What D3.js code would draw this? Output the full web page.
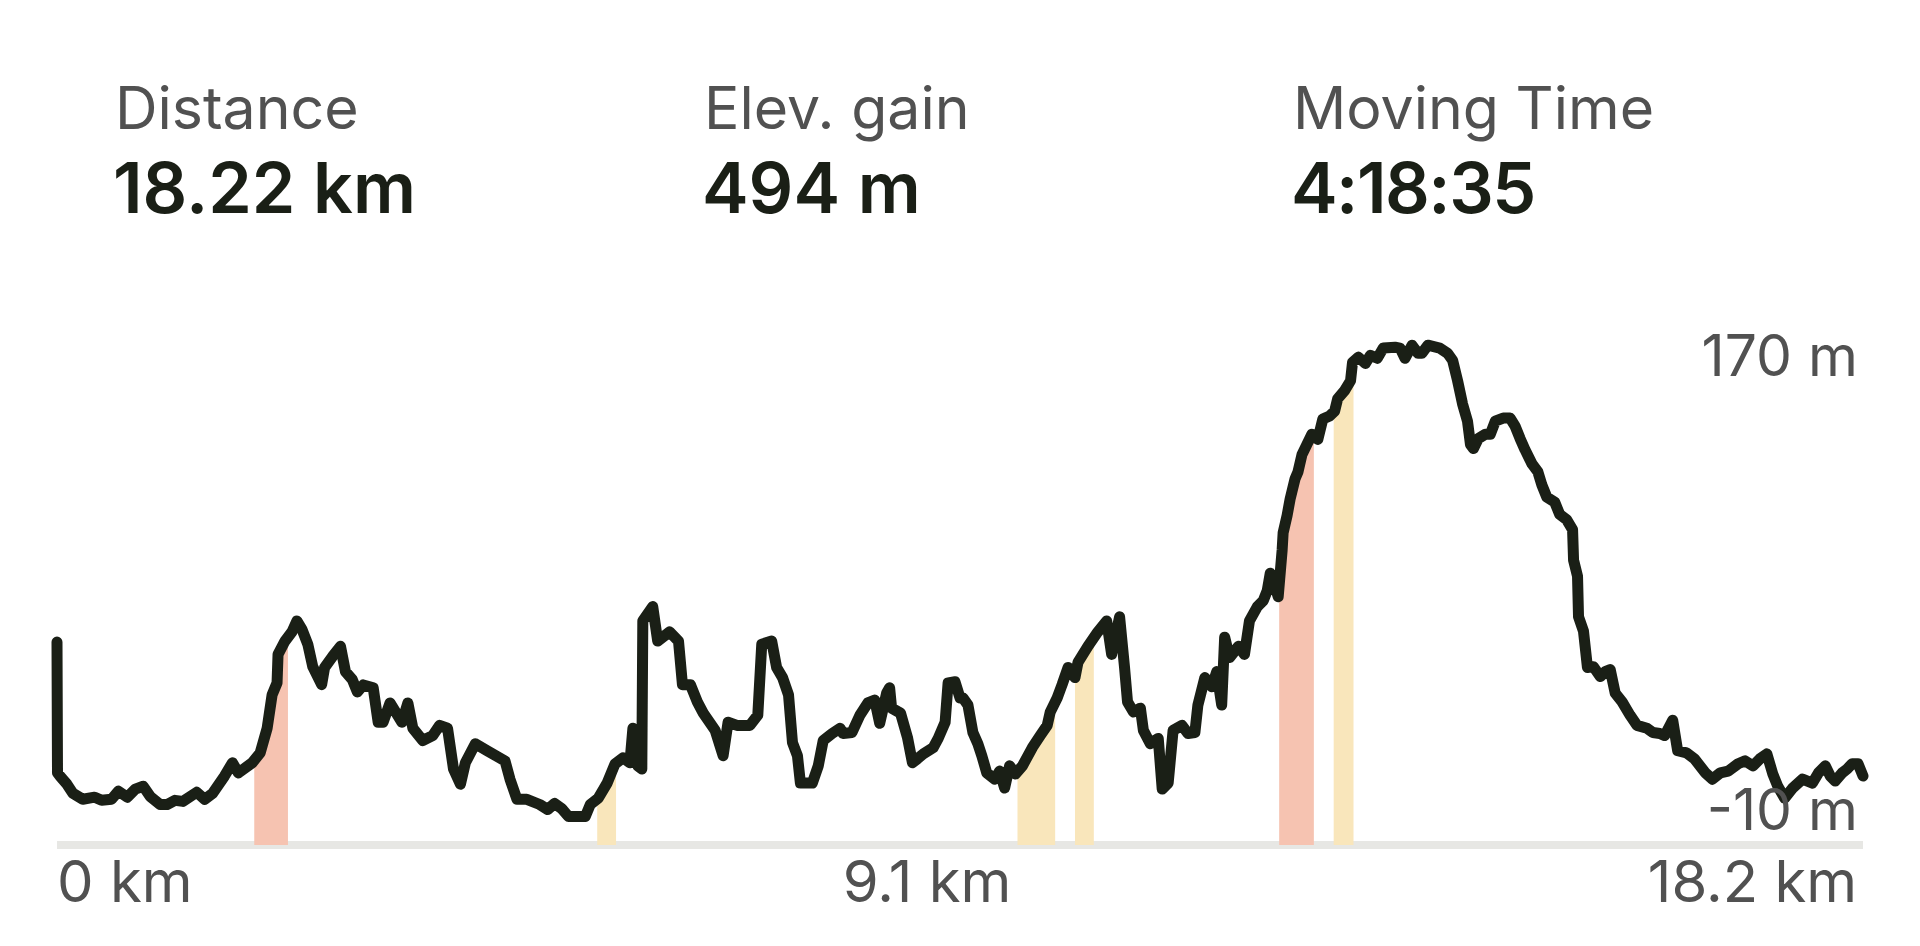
<!DOCTYPE html>
<html>
<head>
<meta charset="utf-8">
<script src="https://cdn.jsdelivr.net/npm/d3@7"></script>
<style>
  body { margin: 0; background: #fff; }
  text { font-family: Inter, "Noto Sans", sans-serif; }
</style>
</head>
<body>
<div id="svg-wrapper"></div>
<script>
// les stats en haut
var statLabels = ["Distance", "Elev. gain", "Moving Time"];
var statValues = ["18.22 km", "494 m", "4:18:35"];

// profil : distance (km) et altitude (m)
var distKm = [
  0, 0.005, 0.03, 0.10, 0.16, 0.26, 0.38, 0.45, 0.55, 0.62,
  0.71, 0.79, 0.87, 0.94, 1.04, 1.11, 1.19, 1.27, 1.41, 1.49,
  1.57, 1.69, 1.77, 1.83, 1.97, 2.05, 2.12, 2.17, 2.22, 2.23,
  2.30, 2.37, 2.42, 2.47, 2.53, 2.58, 2.67, 2.70, 2.78, 2.86,
  2.91, 2.98, 3.03, 3.09, 3.19, 3.24, 3.29, 3.36, 3.48, 3.54,
  3.59, 3.69, 3.79, 3.86, 3.94, 4.00, 4.07, 4.12, 4.22, 4.34,
  4.52, 4.57, 4.64, 4.74, 4.87, 4.95, 5.02, 5.09, 5.16, 5.33,
  5.38, 5.46, 5.55, 5.63, 5.71, 5.78, 5.81, 5.86, 5.90, 5.91,
  6.01, 6.06, 6.18, 6.27, 6.31, 6.39, 6.46, 6.52, 6.64, 6.72,
  6.77, 6.86, 6.99, 7.07, 7.11, 7.21, 7.26, 7.32, 7.38, 7.42,
  7.47, 7.50, 7.62, 7.68, 7.73, 7.82, 7.90, 7.93, 8.02, 8.10,
  8.18, 8.25, 8.30, 8.37, 8.40, 8.42, 8.51, 8.58, 8.63, 8.68,
  8.74, 8.84, 8.89, 8.96, 8.99, 9.06, 9.11, 9.14, 9.19, 9.24,
  9.29, 9.33, 9.38, 9.46, 9.51, 9.56, 9.61, 9.67, 9.74, 9.84,
  9.92, 9.99, 10.02, 10.09, 10.14, 10.20, 10.27, 10.30, 10.40, 10.50,
  10.59, 10.64, 10.72, 10.77, 10.80, 10.86, 10.93, 10.96, 11.03, 11.11,
  11.15, 11.21, 11.26, 11.35, 11.41, 11.48, 11.51, 11.58, 11.65, 11.70,
  11.75, 11.78, 11.83, 11.92, 11.98, 12.03, 12.11, 12.17, 12.21, 12.24,
  12.27, 12.32, 12.36, 12.37, 12.41, 12.44, 12.49, 12.52, 12.56, 12.61,
  12.66, 12.72, 12.77, 12.84, 12.89, 12.92, 12.99, 13.05, 13.07, 13.13,
  13.20, 13.25, 13.32, 13.38, 13.50, 13.55, 13.60, 13.67, 13.73, 13.77,
  13.83, 13.95, 14.03, 14.08, 14.13, 14.18, 14.23, 14.26, 14.29, 14.34,
  14.41, 14.46, 14.51, 14.59, 14.66, 14.71, 14.76, 14.81, 14.88, 14.94,
  14.98, 15.03, 15.11, 15.16, 15.23, 15.29, 15.30, 15.34, 15.35, 15.40,
  15.44, 15.50, 15.57, 15.62, 15.67, 15.72, 15.79, 15.87, 15.94, 16.04,
  16.10, 16.17, 16.22, 16.30, 16.35, 16.44, 16.52, 16.63, 16.70, 16.78,
  16.86, 16.96, 17.03, 17.11, 17.18, 17.25, 17.31, 17.36, 17.43, 17.51,
  17.61, 17.71, 17.77, 17.84, 17.89, 17.94, 18.01, 18.06, 18.11, 18.17,
  18.22
];
var elevM = [
  56.6, 6.5, 5.3, 2.2, -1.3, -3.6, -2.8, -4.0, -3.6, -0.5,
  -2.8, 0.3, 1.4, -2.5, -5.6, -5.6, -4.0, -4.4, -0.9, -3.6,
  -1.3, 5.3, 10.4, 6.5, 10.4, 14.2, 23.6, 36.4, 41.0, 51.9,
  57.0, 60.5, 64.7, 61.6, 55.8, 47.2, 40.3, 46.9, 51.1, 55.0,
  45.3, 42.2, 37.5, 40.2, 39.1, 25.9, 25.9, 33.3, 25.9, 33.3,
  23.6, 18.9, 20.8, 24.7, 23.6, 8.0, 2.2, 10.4, 17.7, 15.0,
  11.1, 4.1, -3.6, -3.6, -5.6, -7.5, -5.2, -7.1, -10.2, -10.2,
  -5.6, -3.2, 2.6, 10.0, 12.3, 10.4, 23.6, 9.2, 8.0, 64.7,
  70.2, 57.0, 60.5, 57.0, 40.3, 40.3, 33.7, 29.4, 22.8, 13.1,
  25.9, 24.7, 24.7, 28.6, 55.8, 57.0, 46.9, 43.0, 36.4, 18.1,
  13.1, 2.6, 2.6, 9.2, 18.9, 21.6, 23.6, 21.6, 22.0, 28.6,
  33.3, 34.4, 25.5, 37.1, 39.1, 31.3, 29.4, 20.1, 10.4, 11.9,
  13.8, 16.2, 19.7, 25.9, 41.0, 41.4, 35.2, 35.2, 32.5, 22.0,
  17.7, 13.1, 6.5, 4.1, 7.2, 0.7, 9.2, 6.1, 9.2, 16.2,
  20.8, 24.7, 29.8, 35.2, 40.3, 46.9, 43.0, 48.8, 55.0, 60.5,
  64.7, 51.9, 66.3, 46.9, 33.7, 29.8, 31.3, 22.8, 17.7, 19.7,
  0.3, 2.6, 22.8, 24.7, 21.6, 22.0, 32.5, 43.0, 39.5, 45.3,
  32.5, 58.5, 50.7, 55.0, 51.9, 64.7, 70.2, 72.5, 76.4, 83.0,
  80.3, 74.0, 91.9, 98.5, 105.1, 111.3, 119.1, 121.8, 128.4, 132.3,
  136.2, 134.2, 142.0, 143.2, 145.1, 149.8, 152.9, 156.7, 163.7, 165.7,
  163.3, 166.4, 165.3, 169.2, 169.5, 169.2, 165.3, 170.3, 167.2, 167.2,
  170.3, 169.2, 167.2, 164.5, 156.7, 147.8, 141.2, 132.3, 130.7, 134.6,
  136.2, 136.2, 141.2, 142.4, 142.4, 139.3, 134.6, 130.3, 124.9, 121.8,
  116.8, 112.1, 110.2, 105.5, 103.5, 99.7, 88.0, 81.8, 66.3, 60.8,
  46.9, 47.2, 43.4, 45.3, 46.1, 37.1, 33.7, 28.6, 24.7, 23.6,
  22.0, 21.6, 20.8, 26.7, 15.0, 14.2, 11.9, 6.5, 4.1, 6.5,
  7.2, 10.0, 11.1, 9.2, 11.9, 13.8, 6.1, 1.4, -3.2, 0.7,
  4.1, 2.6, 6.5, 9.2, 5.3, 3.4, 6.5, 8.0, 10.0, 10.0,
  5.3
];

// les passages raides (debut, fin en km) et leur couleur
var bandStart = [1.99, 5.45, 9.69, 10.27, 12.33, 12.88];
var bandEnd   = [2.33, 5.64, 10.07, 10.46, 12.68, 13.08];
var bandKind  = ["steep", "climb", "climb", "climb", "steep", "climb"];

var xTicks = [0, 9.1, 18.2];
var xTickLabels = ["0 km", "9.1 km", "18.2 km"];
var yTicks = [170, -10];
var yTickLabels = ["170 m", "-10 m"];

var width = 1920,
    height = 946;

var svg = d3.select("#svg-wrapper")
    .append("svg")
    .attr("width", width)
    .attr("height", height);

var data = distKm.map(function (d, i) { return { km: d, m: elevM[i] }; });

var x = d3.scaleLinear().domain([0, 18.22]).range([57, 1863]);
var y = d3.scaleLinear().domain([-10, 170]).range([816, 346]);

var color = d3.scaleOrdinal()
    .domain(["steep", "climb"])
    .range(["#f6c3b1", "#f9e6bb"]);

var barTop = 841, barH = 8;

// en-tete avec les 3 stats
var stats = svg.append("g");
var statX = [116, 705, 1294];
stats.selectAll(".lab")
    .data(statLabels)
    .join("text")
    .attr("class", "lab")
    .attr("x", function (d, i) { return statX[i] - 1; })
    .attr("y", 129)
    .attr("font-size", 59)
    .attr("fill", "#515151")
    .text(function (d) { return d; });
stats.selectAll(".val")
    .data(statValues)
    .join("text")
    .attr("class", "val")
    .attr("x", function (d, i) { return statX[i] - 3; })
    .attr("y", 213)
    .attr("font-size", 70)
    .attr("font-weight", 600)
    .attr("letter-spacing", function (d, i) { return i == 2 ? -1.5 : 0; })
    .attr("fill", "#1a1f16")
    .text(function (d) { return d; });

// barre grise du bas
svg.append("rect")
    .attr("x", x.range()[0])
    .attr("y", barTop)
    .attr("width", x.range()[1] - x.range()[0])
    .attr("height", barH)
    .attr("fill", "#e7e7e4");

// zones colorees sous la courbe
var area = d3.area()
    .x(function (d) { return x(d.km); })
    .y0(barTop + 4)
    .y1(function (d) { return y(d.m); });

var defs = svg.append("defs");
bandStart.forEach(function (s, i) {
    defs.append("clipPath")
        .attr("id", "band" + i)
        .append("rect")
        .attr("x", x(s))
        .attr("y", 0)
        .attr("width", x(bandEnd[i]) - x(s))
        .attr("height", height);
    svg.append("path")
        .datum(data)
        .attr("d", area)
        .attr("clip-path", "url(#band" + i + ")")
        .attr("fill", color(bandKind[i]));
});

// la courbe
var line = d3.line()
    .x(function (d) { return x(d.km); })
    .y(function (d) { return y(d.m); });

svg.append("path")
    .datum(data)
    .attr("d", line)
    .attr("fill", "none")
    .attr("stroke", "#1a1f16")
    .attr("stroke-width", 11)
    .attr("stroke-linejoin", "round")
    .attr("stroke-linecap", "round");

// labels axe x
var xAnchor = ["start", "middle", "end"];
var xShift = [0, -32, -4];
svg.selectAll(".xlab")
    .data(xTicks)
    .join("text")
    .attr("class", "xlab")
    .attr("x", function (d, i) { return x(d) + xShift[i]; })
    .attr("y", 902)
    .attr("text-anchor", function (d, i) { return xAnchor[i]; })
    .attr("font-size", 58)
    .attr("fill", "#515151")
    .text(function (d, i) { return xTickLabels[i]; });

// labels axe y (a droite)
var yShift = [30, 14];
svg.selectAll(".ylab")
    .data(yTicks)
    .join("text")
    .attr("class", "ylab")
    .attr("x", 1858)
    .attr("y", function (d, i) { return y(d) + yShift[i]; })
    .attr("text-anchor", "end")
    .attr("font-size", 57)
    .attr("fill", "#515151")
    .text(function (d, i) { return yTickLabels[i]; });
</script>
</body>
</html>
